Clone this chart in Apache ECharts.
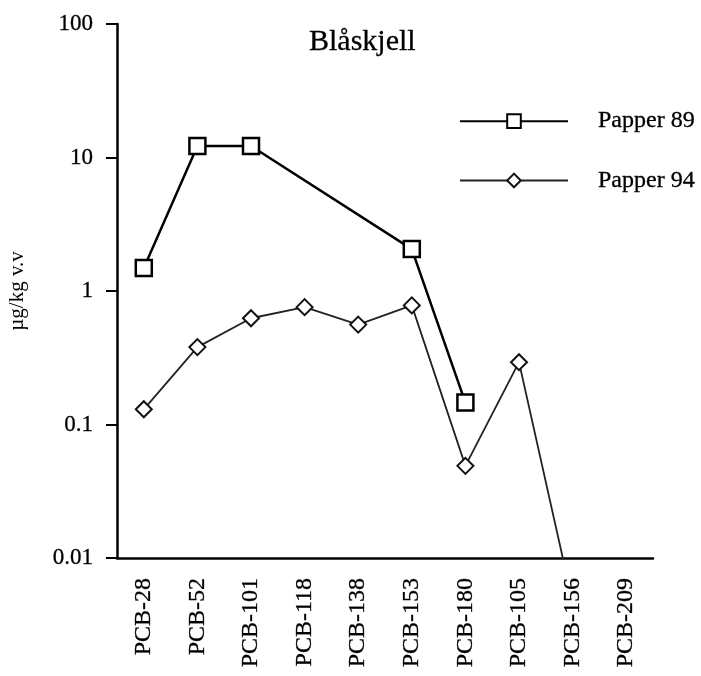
<!DOCTYPE html>
<html>
<head>
<meta charset="utf-8">
<script src="https://cdn.jsdelivr.net/npm/echarts@6/dist/echarts.min.js"></script>
<style>html,body{margin:0;padding:0;background:#fff}#c{width:701px;height:676px}</style>
</head>
<body>
<div id="c"></div>
<script>
const categories = ['PCB-28','PCB-52','PCB-101','PCB-118','PCB-138','PCB-153','PCB-180','PCB-105','PCB-156','PCB-209'];
const papper89 = [1.49, 12.2, 12.2, null, null, 2.06, 0.146, null, null, null];
const papper94 = [0.13, 0.38, 0.625, 0.757, 0.56, 0.78, 0.049, 0.293, 0.0047, null];
const yTicks = [0.01, 0.1, 1, 10, 100];

const FONT = '"Liberation Serif", "DejaVu Serif", serif';
const yMin = yTicks[0], yMax = yTicks[yTicks.length - 1];

function toData(arr) {
  return arr.map(v => (v !== null && v < yMin) ? { value: v, symbol: 'none' } : v);
}

const txt = { fontFamily: FONT, color: '#000', textBorderColor: '#000', textBorderWidth: 0.3 };

const chart = echarts.init(document.getElementById('c'));
chart.setOption({
  animation: false,
  backgroundColor: '#fff',
  title: {
    text: 'Blåskjell',
    left: 304, top: 22,
    textStyle: Object.assign({}, txt, { fontSize: 30, fontWeight: 'normal' })
  },
  legend: {
    orient: 'vertical',
    left: 454, top: 104,
    itemWidth: 108, itemHeight: 17,
    itemGap: 35,
    textStyle: Object.assign({}, txt, { fontSize: 24, padding: [0, 0, 0, 25] }),
    data: ['Papper 89', 'Papper 94']
  },
  grid: { left: 117, right: 48, top: 24, bottom: 118, containLabel: false, outerBoundsMode: 'none' },
  xAxis: {
    type: 'category',
    data: categories,
    boundaryGap: true,
    axisLine: { lineStyle: { color: '#000', width: 2.5 } },
    axisTick: { alignWithLabel: true, length: 11, lineStyle: { color: '#000', width: 2 } },
    axisLabel: Object.assign({}, txt, { rotate: 90, margin: 20, fontSize: 24, interval: 0 }),
    splitLine: { show: false }
  },
  yAxis: {
    type: 'log',
    logBase: 10,
    min: yMin, max: yMax,
    name: 'µg/kg v.v',
    nameLocation: 'middle',
    nameGap: 89,
    nameTextStyle: { fontFamily: FONT, fontSize: 21, color: '#000' },
    axisLine: { show: true, lineStyle: { color: '#000', width: 2.5 } },
    axisTick: { show: true, length: 11, lineStyle: { color: '#000', width: 2 } },
    minorTick: { show: false },
    axisLabel: Object.assign({}, txt, {
      margin: 24, fontSize: 23,
      formatter: v => { const t = yTicks.find(x => Math.abs(x - v) / x < 1e-6); return t !== undefined ? String(t) : ''; }
    }),
    splitLine: { show: false }
  },
  series: [
    {
      name: 'Papper 89',
      type: 'line',
      data: toData(papper89),
      connectNulls: true,
      symbol: 'rect',
      symbolSize: 16,
      itemStyle: { color: '#fff', borderColor: '#000', borderWidth: 2.5 },
      lineStyle: { color: '#000', width: 2.5 },
      z: 3
    },
    {
      name: 'Papper 94',
      type: 'line',
      data: toData(papper94),
      connectNulls: false,
      symbol: 'diamond',
      symbolSize: 16,
      itemStyle: { color: '#fff', borderColor: '#111', borderWidth: 2 },
      lineStyle: { color: '#222', width: 1.8 },
      z: 2
    }
  ]
});
</script>
</body>
</html>
